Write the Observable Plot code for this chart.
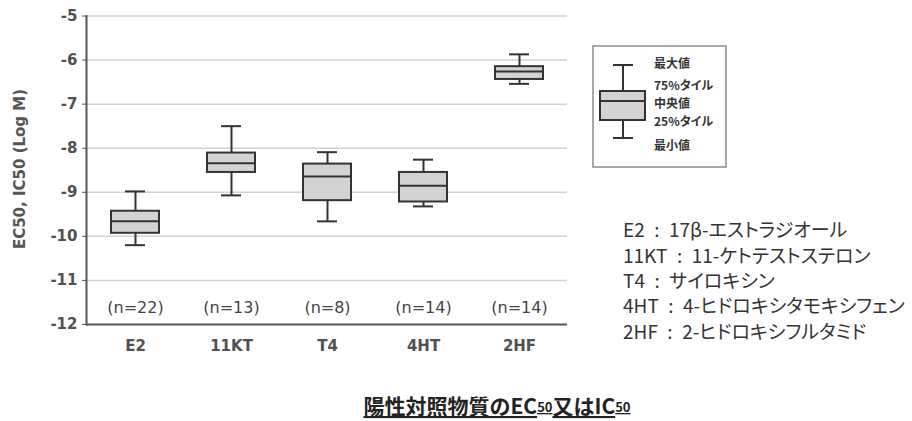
<!DOCTYPE html>
<html>
<head>
<meta charset="utf-8">
<script src="https://cdn.jsdelivr.net/npm/d3@7"></script>
<script src="https://cdn.jsdelivr.net/npm/@observablehq/plot@0.6"></script>
<style>
  html, body { margin: 0; padding: 0; background: #fff; }
  #chart { position: relative; width: 912px; height: 421px; }
  .palt { font-feature-settings: "palt" 1; }
</style>
</head>
<body>
<div id="chart"></div>
<script>
const categories = ["E2", "11KT", "T4", "4HT", "2HF"];
const maxV   = [-8.98, -7.50, -8.09, -8.26, -5.87];
const q3V    = [-9.43, -8.11, -8.36, -8.55, -6.15];
const medV   = [-9.66, -8.34, -8.64, -8.85, -6.26];
const q1V    = [-9.93, -8.55, -9.19, -9.22, -6.44];
const minV   = [-10.20, -9.07, -9.66, -9.32, -6.54];
const nLabels = ["(n=22)", "(n=13)", "(n=8)", "(n=14)", "(n=14)"];
const yTicks = [-5, -6, -7, -8, -9, -10, -11, -12];
const gridTicks = [-5, -6, -7, -8, -9, -10, -11];
const legendLabels = ["最大値", "75%タイル", "中央値", "25%タイル", "最小値"];
const definitions = [
  "E2\u2002:\u200217β-エストラジオール",
  "11KT\u2002:\u200211-ケトテストステロン",
  "T4\u2002:\u2002サイロキシン",
  "4HT\u2002:\u20024-ヒドロキシタモキシフェン",
  "2HF\u2002:\u20022-ヒドロキシフルタミド"
];
const yLabel = "EC50, IC50 (Log M)";

const rows = categories.map((c, i) => ({
  cat: c, max: maxV[i], q3: q3V[i], med: medV[i], q1: q1V[i], min: minV[i], n: nLabels[i]
}));

const W = 912, H = 421;
const mL = 86, mR = 345, mT = 15.5, mB = 97;
const boxInset = 24, capInset = 38;
const dark = "#333";

const plot = Plot.plot({
  width: W, height: H,
  marginLeft: mL, marginRight: mR, marginTop: mT, marginBottom: mB,
  style: { fontFamily: "DejaVu Sans, Verdana, sans-serif", background: "#fff" },
  x: { type: "band", domain: categories, padding: 0 },
  y: { domain: [-12, -5] },
  marks: [
    Plot.ruleY(gridTicks, { stroke: "#d2d2d2", strokeWidth: 1.5 }),
    Plot.ruleY([-12], { stroke: "#555", strokeWidth: 2 }),
    Plot.frame({ anchor: "left", stroke: "#555", strokeWidth: 2 }),
    Plot.axisY(yTicks, {
      tickSize: 4, tickPadding: 5, stroke: "#555",
      tickFormat: d => String(d), fontSize: 15, fontWeight: "bold", fill: "#505050",
      label: null
    }),
    Plot.axisX({
      tickSize: 0, tickPadding: 16, fontSize: 15, fontWeight: "bold", fill: "#505050", label: null
    }),
    Plot.ruleX(rows, { x: "cat", y1: "q3", y2: "max", stroke: dark, strokeWidth: 2 }),
    Plot.ruleX(rows, { x: "cat", y1: "min", y2: "q1", stroke: dark, strokeWidth: 2 }),
    Plot.tickY(rows, { x: "cat", y: "max", stroke: dark, strokeWidth: 2, insetLeft: capInset, insetRight: capInset }),
    Plot.tickY(rows, { x: "cat", y: "min", stroke: dark, strokeWidth: 2, insetLeft: capInset, insetRight: capInset }),
    Plot.barY(rows, { x: "cat", y1: "q1", y2: "q3", fill: "#d3d3d3", stroke: dark, strokeWidth: 2, insetLeft: boxInset, insetRight: boxInset }),
    Plot.tickY(rows, { x: "cat", y: "med", stroke: dark, strokeWidth: 2, insetLeft: boxInset, insetRight: boxInset }),
    Plot.text(rows, { x: "cat", text: "n", frameAnchor: "bottom", dy: -17, lineAnchor: "middle", fontSize: 16, fill: "#444" })
  ]
});

document.getElementById("chart").appendChild(plot);
const svg = d3.select(plot);

// y-axis label
svg.append("text")
  .attr("transform", "translate(20,169) rotate(-90)")
  .attr("text-anchor", "middle").attr("dominant-baseline", "middle")
  .attr("font-family", "DejaVu Sans, Verdana, sans-serif")
  .attr("font-size", 15).attr("font-weight", "bold").attr("fill", "#555")
  .text(yLabel);

// legend
const lg = svg.append("g");
lg.append("rect").attr("x", 593).attr("y", 46).attr("width", 133).attr("height", 121)
  .attr("fill", "none").attr("stroke", "#8a8a8a").attr("stroke-width", 1.5);
lg.append("line").attr("x1", 623).attr("x2", 623).attr("y1", 65).attr("y2", 91).attr("stroke", dark).attr("stroke-width", 2);
lg.append("line").attr("x1", 623).attr("x2", 623).attr("y1", 120).attr("y2", 138).attr("stroke", dark).attr("stroke-width", 2);
lg.append("line").attr("x1", 613).attr("x2", 633).attr("y1", 65).attr("y2", 65).attr("stroke", dark).attr("stroke-width", 2);
lg.append("line").attr("x1", 613).attr("x2", 633).attr("y1", 138).attr("y2", 138).attr("stroke", dark).attr("stroke-width", 2);
lg.append("rect").attr("x", 600).attr("y", 91).attr("width", 45).attr("height", 29)
  .attr("fill", "#d3d3d3").attr("stroke", dark).attr("stroke-width", 2);
lg.append("line").attr("x1", 600).attr("x2", 645).attr("y1", 101).attr("y2", 101).attr("stroke", dark).attr("stroke-width", 2);
const lgY = [65, 87, 105, 123, 147];
legendLabels.forEach((t, i) => {
  lg.append("text").attr("x", 654).attr("y", lgY[i]).attr("dominant-baseline", "middle")
    .attr("text-anchor", "start").attr("class", "palt")
    .attr("font-family", "Noto Sans CJK JP, sans-serif").attr("font-size", 12).attr("font-weight", "bold")
    .attr("fill", "#333").text(t);
});

// definitions
const defY = [232, 258, 283, 308, 334];
definitions.forEach((t, i) => {
  svg.append("text").attr("x", 623).attr("y", defY[i]).attr("dominant-baseline", "middle")
    .attr("text-anchor", "start").attr("class", "palt")
    .attr("font-family", "Noto Sans CJK JP, sans-serif").attr("font-size", 19)
    .attr("fill", "#333").text(t);
});

// title
const title = svg.append("text").attr("x", 497).attr("y", 408).attr("text-anchor", "middle")
  .attr("dominant-baseline", "middle")
  .attr("font-family", "Noto Sans CJK JP, sans-serif").attr("font-size", 21).attr("font-weight", "bold")
  .attr("fill", "#222").attr("text-decoration", "underline");
title.append("tspan").text("陽性対照物質のEC");
title.append("tspan").attr("font-size", 13).text("50");
title.append("tspan").text("又はIC");
title.append("tspan").attr("font-size", 13).text("50");
</script>
</body>
</html>
